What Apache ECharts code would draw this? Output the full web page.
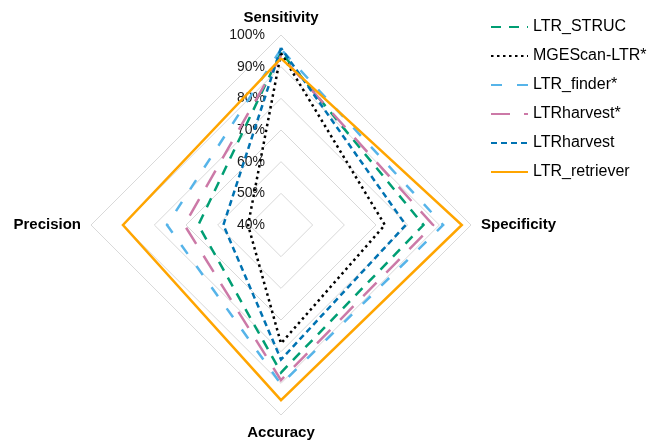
<!DOCTYPE html>
<html><head><meta charset="utf-8">
<script src="https://cdn.jsdelivr.net/npm/echarts@6/dist/echarts.min.js"></script>
<style>html,body{margin:0;padding:0;background:#fff}#c{width:655px;height:440px}</style>
</head><body><div id="c"></div>
<script>
// Indicators, counter-clockwise from top
const indicators = ['Sensitivity', 'Precision', 'Accuracy', 'Specificity'];
const tickMin = 40, tickMax = 100, tickStep = 10;
const seriesNames = ['LTR_STRUC', 'MGEScan-LTR*', 'LTR_finder*', 'LTRharvest*', 'LTRharvest', 'LTR_retriever'];
// values: [Sensitivity, Precision, Accuracy, Specificity] in %
const ltrStruc      = [94.6, 66.1, 86.6, 85.0];
const mgescanLtr    = [94.3, 50.4, 77.4, 72.8];
const ltrFinder     = [95.5, 76.0, 90.3, 91.2];
const ltrHarvestStar= [93.4, 70.5, 89.0, 88.0];
const ltrHarvest    = [95.9, 58.2, 82.5, 79.4];
const ltrRetriever  = [92.6, 89.9, 95.3, 97.1];
const seriesValues = [ltrStruc, mgescanLtr, ltrFinder, ltrHarvestStar, ltrHarvest, ltrRetriever];

const styles = [
  {color: '#009E73', type: [10, 8]},
  {color: '#000000', type: [2.5, 3.5]},
  {color: '#56B4E9', type: [11, 15]},
  {color: '#CC79A7', type: [19, 14]},
  {color: '#0072B2', type: [6, 4]},
  {color: '#FFA500', type: 'solid'}
];
const LW = 2.5;
const FONT = 'Liberation Sans, Arial, sans-serif';

const chart = echarts.init(document.getElementById('c'), null, {renderer: 'canvas'});
const legendSeries = seriesNames.map((n, i) => ({
  type: 'line', name: n, xAxisIndex: 0, yAxisIndex: 0, data: [], symbol: 'none',
  lineStyle: {color: styles[i].color, type: styles[i].type, width: LW},
  itemStyle: {color: styles[i].color}
}));
const radarSeries = seriesNames.map((n, i) => ({
  type: 'radar', name: n, symbol: 'none', silent: true,
  lineStyle: {color: styles[i].color, type: styles[i].type, width: LW, join: 'miter'},
  itemStyle: {color: styles[i].color},
  data: [{value: seriesValues[i], name: n}]
}));

chart.setOption({
  animation: false,
  backgroundColor: '#ffffff',
  textStyle: {fontFamily: FONT},
  legend: {
    orient: 'vertical', left: 485, top: 14,
    itemWidth: 37, itemHeight: 14, itemGap: 13,
    data: seriesNames,
    itemStyle: {color: 'rgba(0,0,0,0)', borderColor: 'rgba(0,0,0,0)', borderWidth: 0},
    textStyle: {fontSize: 16, color: '#000', fontFamily: FONT}
  },
  grid: {left: 281, top: 35, height: 190, width: 1, containLabel: false},
  xAxis: {type: 'value', show: false, min: 0, max: 1},
  yAxis: {
    type: 'value', min: tickMin, max: tickMax, interval: tickStep, position: 'left',
    axisLine: {show: false}, axisTick: {show: false}, splitLine: {show: false},
    axisLabel: {formatter: '{value}%', margin: 16, fontSize: 14, color: '#1a1a1a', fontFamily: FONT}
  },
  radar: {
    center: [281, 225], radius: 190, shape: 'polygon', splitNumber: 6, startAngle: 90,
    indicator: indicators.map(n => ({name: n, min: tickMin, max: tickMax})),
    axisName: {color: '#000', fontSize: 15, fontWeight: 'bold', fontFamily: FONT},
    nameGap: 10,
    axisLine: {show: false}, axisTick: {show: false}, axisLabel: {show: false},
    splitArea: {show: false},
    splitLine: {lineStyle: {color: '#d9d9d9', width: 1}}
  },
  series: legendSeries.concat(radarSeries)
});
</script></body></html>
